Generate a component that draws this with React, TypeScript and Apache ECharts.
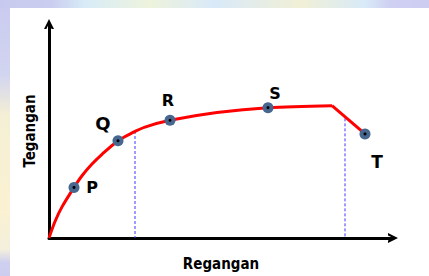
import React, { useEffect, useRef } from "react";
import * as echarts from "echarts";

// Stress–strain curve (arbitrary units)
const curveStrain = [0, 6, 13, 25, 33, 43, 53, 69, 83, 96, 121, 168, 219, 283];
const curveStress = [0, 17, 32, 52, 64, 76, 86, 100, 108, 114, 121, 129, 134, 136];
const fractureStrain = [283, 316];
const fractureStress = [136, 107];

const pointLabels = ["P", "Q", "R", "S", "T"];
const pointStrain = [25, 69, 121, 219, 316];
const pointStress = [52, 100, 121, 134, 107];

const guideStrain = [86, 296];
const guideStress = [110, 123];

const xName = "Regangan";
const yName = "Tegangan";

const labelOffsets: number[][] = [
  [18, 0],
  [-15, -17],
  [-2, -20],
  [7, -14],
  [12, 28],
];
const labelSizes = [16, 18, 16, 16, 17];

const chevron = "path://M0,10 L5,0 L10,10 L7.6,10 L5,4.6 L2.4,10 Z";
const nameFont = {
  fontFamily: "DejaVu Sans Condensed",
  fontWeight: "bold",
  fontSize: 15,
  color: "#000",
};

export default function App() {
  const ref = useRef<HTMLDivElement>(null);
  useEffect(() => {
    if (!ref.current) return;
    const chart = echarts.init(ref.current, null, { renderer: "svg" });
    const curve = curveStrain.map((x, i) => [x, curveStress[i]]);
    const fracture = fractureStrain.map((x, i) => [x, fractureStress[i]]);
    const pts = pointStrain.map((x, i) => ({
      value: [x, pointStress[i]],
      name: pointLabels[i],
      label: { offset: labelOffsets[i], fontSize: labelSizes[i] },
    }));
    const guides = guideStrain.map((x, i) => ({
      type: "line",
      data: [
        [x, guideStress[i]],
        [x, 0],
      ],
      symbol: "none",
      lineStyle: { color: "#3a3aff", width: 1, type: [3, 2] },
      z: 1,
    }));
    chart.setOption({
      animation: false,
      backgroundColor: "#ffffff",
      graphic: [
        {
          type: "rect",
          z: -100,
          shape: { x: 0, y: 0, width: 429, height: 8 },
          style: {
            fill: new echarts.graphic.LinearGradient(0, 0, 1, 0, [
              { offset: 0, color: "#c8c9ee" },
              { offset: 0.12, color: "#cacdef" },
              { offset: 0.2, color: "#d8ecf8" },
              { offset: 0.35, color: "#eef3dc" },
              { offset: 0.5, color: "#d9e9f9" },
              { offset: 0.7, color: "#f1f0d6" },
              { offset: 0.85, color: "#d8eaf8" },
              { offset: 0.91, color: "#cfd0f2" },
              { offset: 1, color: "#cdcdf1" },
            ]),
          },
        },
        {
          type: "rect",
          z: -100,
          shape: { x: 0, y: 8, width: 10, height: 268 },
          style: {
            fill: new echarts.graphic.LinearGradient(0, 0, 0, 1, [
              { offset: 0, color: "#cacbef" },
              { offset: 0.25, color: "#d2d5f0" },
              { offset: 0.4, color: "#f4efd5" },
              { offset: 0.75, color: "#fbf1d2" },
              { offset: 0.9, color: "#f3efdc" },
              { offset: 0.95, color: "#cfd0f0" },
              { offset: 1, color: "#cdcdf0" },
            ]),
          },
        },
      ],
      grid: { left: 49, top: 24, width: 344, height: 220 },
      xAxis: {
        type: "value",
        min: 0,
        max: 344,
        name: xName,
        nameLocation: "middle",
        nameGap: 18,
        nameTextStyle: nameFont,
        axisLine: {
          onZero: false,
          symbol: ["none", chevron],
          symbolSize: [13, 10],
          lineStyle: { color: "#000", width: 3 },
        },
        axisTick: { show: false },
        axisLabel: { show: false },
        splitLine: { show: false },
      },
      yAxis: {
        type: "value",
        min: 0,
        max: 220,
        name: yName,
        nameLocation: "middle",
        nameRotate: 90,
        nameGap: 12,
        nameTextStyle: nameFont,
        axisLine: {
          show: true,
          onZero: false,
          symbol: ["none", chevron],
          symbolSize: [13, 10],
          lineStyle: { color: "#000", width: 3 },
        },
        axisTick: { show: false },
        axisLabel: { show: false },
        splitLine: { show: false },
      },
      series: [
        ...guides,
        {
          type: "line",
          data: curve,
          smooth: 0.3,
          symbol: "none",
          lineStyle: { color: "#ff0000", width: 3 },
          z: 2,
        },
        {
          type: "line",
          data: fracture,
          symbol: "none",
          lineStyle: { color: "#ff0000", width: 3 },
          z: 2,
        },
        {
          type: "scatter",
          data: pts,
          symbolSize: 11,
          itemStyle: { color: "#47678f", opacity: 1 },
          label: {
            show: true,
            position: "inside",
            formatter: "{b}",
            fontFamily: "DejaVu Sans",
            fontWeight: "bold",
            color: "#000",
          },
          z: 3,
        },
        {
          type: "scatter",
          data: pointStrain.map((x, i) => [x, pointStress[i]]),
          symbolSize: 3,
          itemStyle: { color: "#000", opacity: 1 },
          z: 4,
        },
      ],
    });
    return () => chart.dispose();
  }, []);
  return (
    <div
      ref={ref}
      style={{ position: "absolute", left: 0, top: 0, width: 429, height: 276 }}
    />
  );
}
